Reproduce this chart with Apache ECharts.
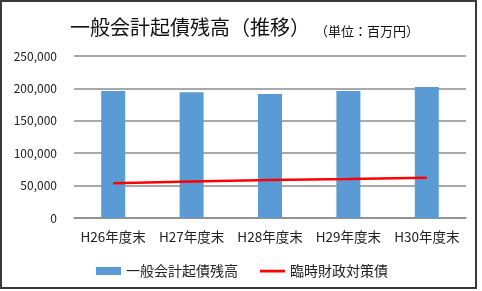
<!DOCTYPE html>
<html><head><meta charset="utf-8">
<script src="https://cdn.jsdelivr.net/npm/echarts@6/dist/echarts.min.js"></script>
<style>html,body{margin:0;padding:0;background:#fff}#c{width:482px;height:291px}</style>
</head><body><div id="c"></div>
<script>
const categories = ['H26年度末','H27年度末','H28年度末','H29年度末','H30年度末'];
const generalBonds = [196000, 194000, 191500, 196000, 202000];
const specialBonds = [53500, 56500, 58500, 60000, 62000];
const yTicks = [0, 50000, 100000, 150000, 200000, 250000];
const seriesNames = ['一般会計起債残高', '臨時財政対策債'];
const titleText = '一般会計起債残高（推移）';
const unitText = '（単位：百万円）';

const FONT = '"Noto Sans CJK JP", sans-serif';
const lineIcon = 'path://M0,0 L0.01,0 L0,0.01 Z M0,2.8 L25,2.8 L25,5.4 L0,5.4 Z M25,8 L24.99,8 L25,7.99 Z';
const chart = echarts.init(document.getElementById('c'), null, {renderer: 'canvas'});
chart.setOption({
  animation: false,
  backgroundColor: '#fff',
  textStyle: {fontFamily: FONT},
  title: [
    {text: titleText, left: 65, top: 12, textStyle: {fontFamily: FONT, fontSize: 20, fontWeight: 'normal', color: '#111'}},
    {text: unitText, left: 310, top: 20, textStyle: {fontFamily: FONT, fontSize: 13, fontWeight: 'normal', color: '#111'}}
  ],
  graphic: [{type: 'rect', shape: {x: 1, y: 1, width: 475, height: 287}, style: {fill: 'none', stroke: '#3a3a3a', lineWidth: 2}, silent: true}],
  legend: {
    left: 91, top: 259, itemWidth: 25, itemHeight: 8, itemGap: 22,
    textStyle: {fontFamily: FONT, fontSize: 14, color: '#222'},
    data: [{name: seriesNames[0], icon: 'rect'}, {name: seriesNames[1], icon: lineIcon, itemStyle: {color: '#FF0000'}}]
  },
  grid: {left: 74, right: 16, top: 56, bottom: 73, containLabel: false},
  xAxis: {
    type: 'category', data: categories,
    axisLine: {lineStyle: {color: '#8c8c8c', width: 1.5}},
    axisTick: {show: false},
    axisLabel: {fontFamily: FONT, fontSize: 13.5, color: '#222', margin: 12, interval: 0}
  },
  yAxis: {
    type: 'value', min: yTicks[0], max: yTicks[yTicks.length-1], interval: 50000,
    axisLine: {show: false}, axisTick: {show: false},
    splitLine: {lineStyle: {color: '#8c8c8c', width: 1.5}},
    axisLabel: {fontFamily: FONT, fontSize: 12, color: '#222', margin: 17,
      formatter: v => v.toLocaleString('en-US')}
  },
  series: [
    {name: seriesNames[0], type: 'bar', data: generalBonds, barWidth: 24,
     itemStyle: {color: '#5B9BD5'}},
    {name: seriesNames[1], type: 'line', data: specialBonds, symbol: 'none',
     lineStyle: {color: '#FF0000', width: 2.5}, itemStyle: {color: '#FF0000'}}
  ]
});
</script></body></html>
